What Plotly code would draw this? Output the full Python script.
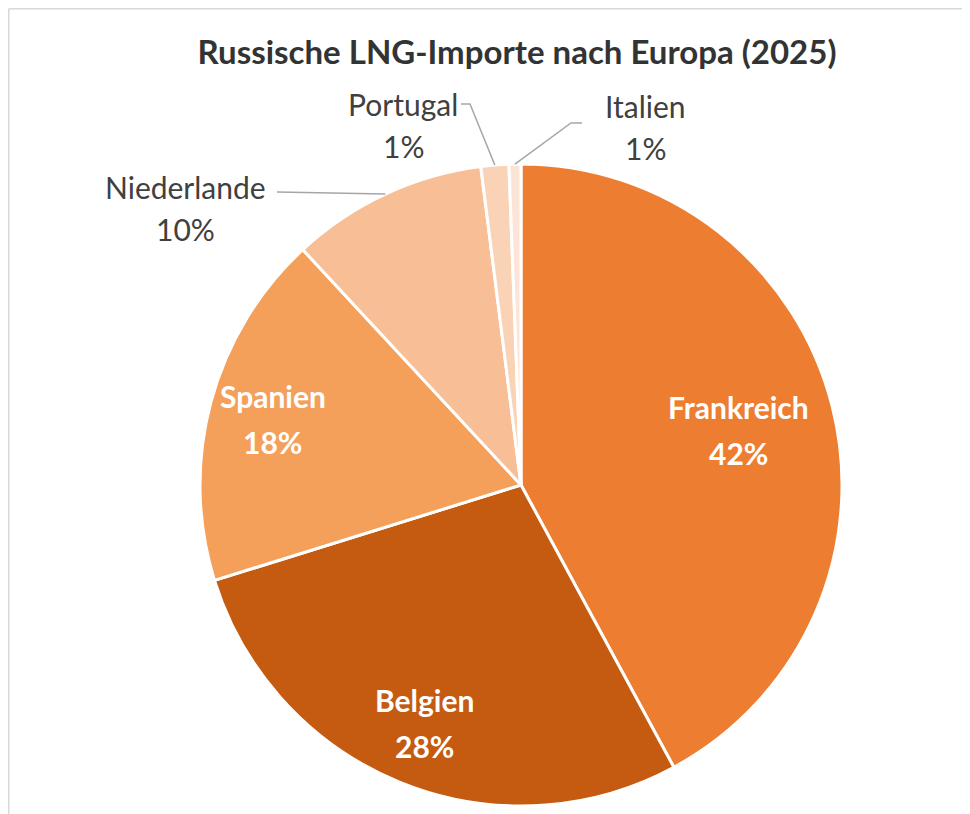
import math
import plotly.graph_objects as go

# ---- data ----
countries = ["Frankreich", "Belgien", "Spanien", "Niederlande", "Portugal", "Italien"]
shares = [42.1, 28.1, 17.9, 9.9, 1.4, 0.6]
colors = ["#ED7D31", "#C55A11", "#F4A05A", "#F8BF97", "#FAD3B7", "#FCE4D6"]
title_text = "Russische LNG-Importe nach Europa (2025)"

# label styles: inside (white bold) for big slices, outside with leader line for small ones
inside_radius = {"Frankreich": 0.70, "Belgien": 0.80, "Spanien": 0.80}
# positions measured in the reference image (pixels)
outside_label_px = {"Niederlande": (185, 208), "Portugal": (403, 125), "Italien": (645, 127)}
leader_elbow_px = {"Niederlande": [(277, 192)], "Portugal": [(461, 104), (470, 104)],
                   "Italien": [(582, 123), (571, 123)]}

W, H = 970, 814
OFF = 8  # page body margin
ML, MT, SIDE = 200 - OFF, 164 - OFF, 642
MR, MB = W - ML - SIDE, H - MT - SIDE

def px2paper(x, y):
    return (x - OFF - ML) / SIDE, 1 - (y - OFF - MT) / SIDE

fig = go.Figure(go.Pie(
    labels=countries, values=shares, sort=False, direction="clockwise", rotation=0,
    marker=dict(colors=colors, line=dict(color="white", width=3)),
    textinfo="none", hoverinfo="label+percent", showlegend=False,
))

total = sum(shares)
cum = 0.0
annotations = []
shapes = []
FONT = "Lato, 'Open Sans', sans-serif"
for name, v in zip(countries, shares):
    mid = (cum + v / 2) / total * 2 * math.pi
    cum += v
    pct = f"{round(v / total * 100)}%"
    if name in inside_radius:
        rf = inside_radius[name]
        x = 0.5 + rf * 0.5 * math.sin(mid)
        y = 0.5 + rf * 0.5 * math.cos(mid)
        for txt, ys in ((name, 23), (pct, -23)):
            annotations.append(dict(x=x, y=y, xref="paper", yref="paper", text=txt, showarrow=False,
                                    xanchor="center", yanchor="middle", yshift=ys,
                                    font=dict(family=FONT, size=30, color="white", weight="bold")))
    else:
        lx, ly = outside_label_px[name]
        x, y = px2paper(lx, ly)
        for txt, ys in ((name, 21), (pct, -21)):
            annotations.append(dict(x=x, y=y, xref="paper", yref="paper", text=txt, showarrow=False,
                                    xanchor="center", yanchor="middle", yshift=ys,
                                    font=dict(family=FONT, size=30, color="#404040")))
        ex = 0.5 + 0.5 * math.sin(mid)
        ey = 0.5 + 0.5 * math.cos(mid)
        pts = [px2paper(*p) for p in leader_elbow_px[name]] + [(ex, ey)]
        path = "M " + " L ".join(f"{a},{b}" for a, b in pts)
        shapes.append(dict(type="path", path=path, xref="paper", yref="paper",
                           line=dict(color="#A6A6A6", width=1.5)))

# outer frame lines (top and left)
fx, fy = px2paper(OFF + 0.75, OFF + 0.75)
ex_, ey_ = px2paper(W + 40, H + 40)
shapes.append(dict(type="line", x0=fx, y0=fy, x1=ex_, y1=fy, xref="paper", yref="paper",
                   line=dict(color="#D9D9D9", width=1.5)))
shapes.append(dict(type="line", x0=fx, y0=fy, x1=fx, y1=ey_, xref="paper", yref="paper",
                   line=dict(color="#D9D9D9", width=1.5)))

fig.update_layout(
    width=W, height=H,
    margin=dict(l=ML, r=MR, t=MT, b=MB),
    paper_bgcolor="white", plot_bgcolor="white",
    title=dict(text=title_text, x=(517 - OFF) / W, xanchor="center", y=1 - (52 - OFF) / H,
               yanchor="middle",
               font=dict(family=FONT, size=33, color="#333333", weight="bold")),
    annotations=annotations, shapes=shapes,
)
fig.write_html("out.html")
